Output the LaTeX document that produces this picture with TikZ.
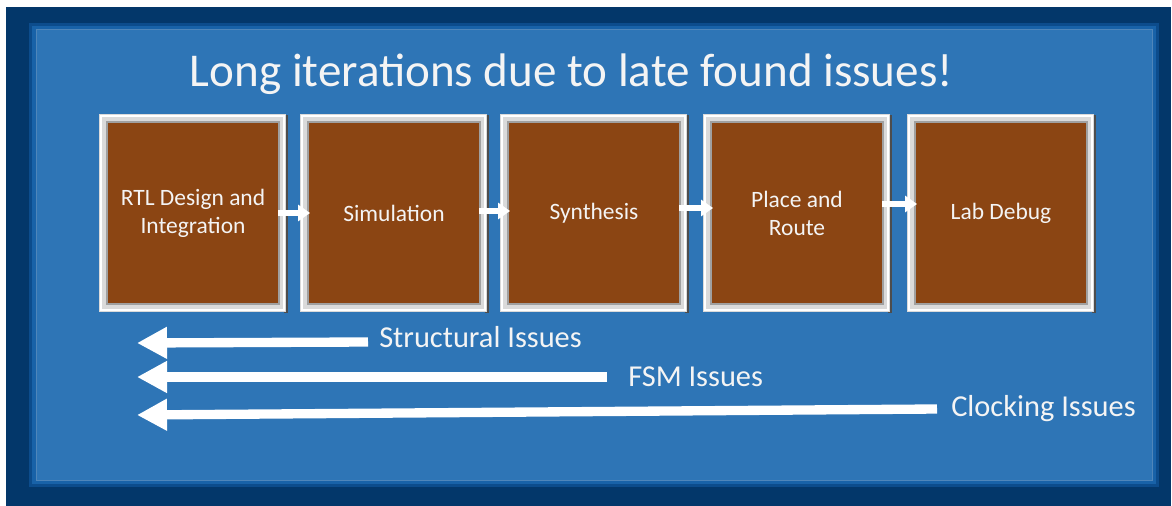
\documentclass[tikz,border=0pt]{standalone}
\usepackage{fontspec}
\setmainfont{Carlito}
\usetikzlibrary{arrows.meta,calc}
\definecolor{navy}{HTML}{03376A}
\definecolor{glowA}{HTML}{0C4C8C}
\definecolor{glowB}{HTML}{1862A8}
\definecolor{panel}{HTML}{2E75B6}
\definecolor{panelline}{HTML}{4F86BA}
\definecolor{brownbox}{HTML}{8B4513}
\definecolor{framefill}{HTML}{DADADA}
\definecolor{framedark}{HTML}{4D4D4D}
\definecolor{frameinner}{HTML}{A0A0A0}
\definecolor{txt}{HTML}{F4F4F4}
\pgfdeclarelayer{bg}
\pgfdeclarelayer{frame}
\pgfsetlayers{bg,frame,main}
\tikzset{
  stagebox/.style={fill=brownbox, minimum width=127.5pt, minimum height=135pt,
    inner sep=0pt, text=txt, align=center, font=\fontsize{17.6}{21}\selectfont},
  flow/.style={draw=white, line width=4.5pt, -{Triangle[length=9pt,width=12pt]}, shorten >=-1pt},
  back/.style={draw=white, line width=7pt, -{Triangle[length=22.5pt,width=22.5pt]}},
  issue/.style={anchor=base west, text=txt, inner sep=0pt, font=\fontsize{22.8}{26}\selectfont},
}
\begin{document}
\begin{tikzpicture}[x=0.75pt,y=-0.75pt]
\useasboundingbox (0,0) rectangle (1172,506);
\begin{pgfonlayer}{bg}
  \fill[white] (0,0) rectangle (1172,506);
  \fill[navy] (6,7) rectangle (1171,506);
  \fill[glowA] (29,23) rectangle (1159,487);
  \fill[glowB] (32,26) rectangle (1156,484);
  \fill[panel] (36,29) rectangle (1152,480);
  \draw[panelline, line width=0.6pt] (36,29) rectangle (1152,480);
\end{pgfonlayer}

\node[anchor=base, text=txt, inner sep=0pt, font=\fontsize{35.3}{40}\selectfont]
  (title) at (571.5,87) {Long iterations due to late found issues!};

\node[stagebox] (b1) at (193,213) {RTL Design and\\Integration};
\node[stagebox] (b2) at (394,213) {Simulation};
\node[stagebox] (b3) at (594,213) {Synthesis};
\node[stagebox] (b4) at (797,213) {Place and\\Route};
\node[stagebox] (b5) at (1001,213) {Lab Debug};

\begin{pgfonlayer}{frame}
\foreach \n in {b1,b2,b3,b4,b5}{
  \fill[framedark] ($(\n.north east)+(6,-8)$) rectangle ($(\n.south east)+(10,10)$);
  \fill[framefill] ($(\n.north west)+(-9,-9)$) rectangle ($(\n.south east)+(8,9)$);
  \draw[white, line width=1.8pt] ($(\n.north west)+(-7,-7)$) rectangle ($(\n.south east)+(6,7)$);
  \draw[frameinner, line width=1.2pt] ($(\n.north west)+(-1,-1)$) rectangle ($(\n.south east)+(1,1)$);
}
\end{pgfonlayer}

\draw[flow] ([yshift=0pt]b1.east) -- ([yshift=0pt]b2.west);
\draw[flow] ([yshift=1.5pt]b2.east) -- ([yshift=1.5pt]b3.west);
\draw[flow] ([yshift=3.75pt]b3.east) -- ([yshift=3.75pt]b4.west);
\draw[flow] ([yshift=6.75pt]b4.east) -- ([yshift=6.75pt]b5.west);

\node[issue] (s) at (379,348) {Structural Issues};
\node[issue] (f) at (628,386) {FSM Issues};
\node[issue] (c) at (951,416) {Clocking Issues};
\coordinate (se) at (368,342);
\coordinate (st) at (137,343);
\coordinate (fe) at (607,377);
\coordinate (ft) at (137,377);
\coordinate (ce) at (937,409);
\coordinate (ct) at (137,415);
\draw[back] (se) -- (st);
\draw[back] (fe) -- (ft);
\draw[back] (ce) -- (ct);
\end{tikzpicture}
\end{document}
